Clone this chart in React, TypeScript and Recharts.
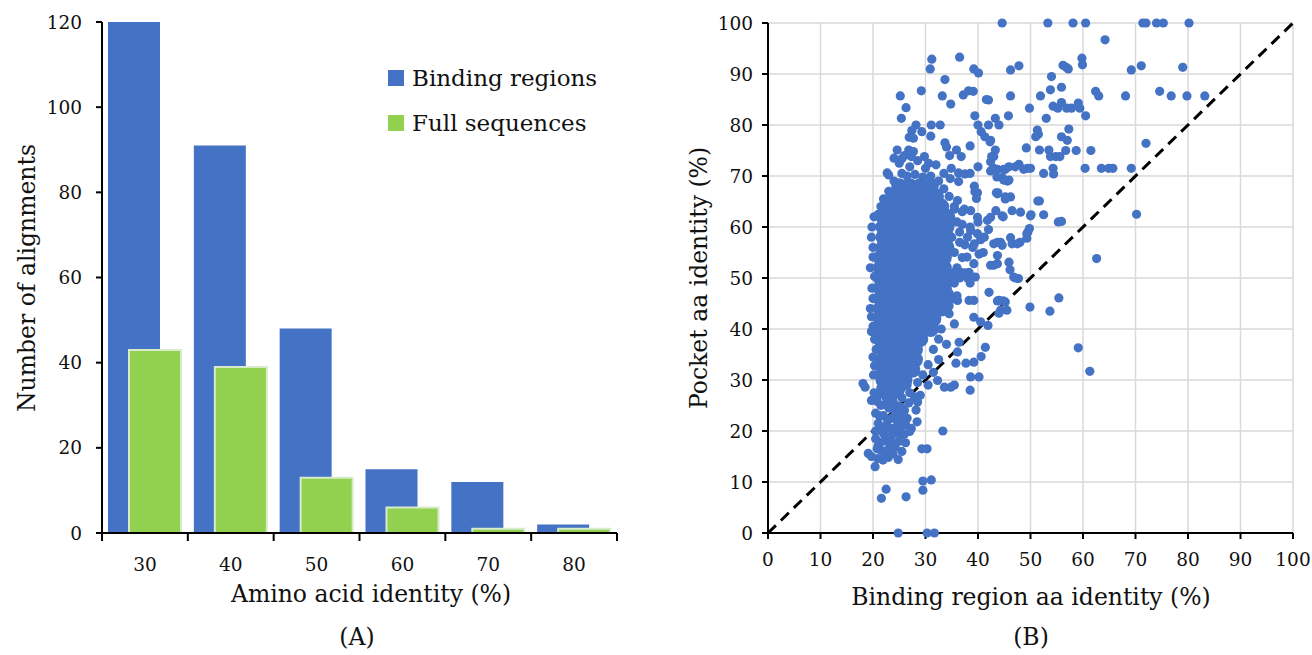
import React from 'react';
import {
  BarChart, Bar, XAxis, YAxis, ScatterChart, Scatter, CartesianGrid, ReferenceLine, Legend,
} from 'recharts';

// ---------- Panel A data ----------
const identityBins = ['30', '40', '50', '60', '70', '80'];
const bindingRegions = [120, 91, 48, 15, 12, 2];
const fullSequences = [43, 39, 13, 6, 1, 1];
const countTicks = [0, 20, 40, 60, 80, 100, 120];

// ---------- Panel B data ----------
const pctTicks = [0, 10, 20, 30, 40, 50, 60, 70, 80, 90, 100];
const parityLine = [{ x: 0, y: 0 }, { x: 100, y: 100 }];

// dense core of the cloud (drawn with larger dots so it reads as solid)
const blobCore: [number, number][] = [
  [25, 68], [27, 68], [29, 68], [31, 68],
  [24, 66], [26, 66], [28, 66], [30, 66], [32, 66],
  [23, 64], [25, 64], [27, 64], [29, 64], [31, 64], [33, 64],
  [22, 62], [24, 62], [26, 62], [28, 62], [30, 62], [32, 62], [34, 62],
  [22, 60], [24, 60], [26, 60], [28, 60], [30, 60], [32, 60], [34, 60],
  [22, 58], [24, 58], [26, 58], [28, 58], [30, 58], [32, 58], [34, 58],
  [22, 56], [24, 56], [26, 56], [28, 56], [30, 56], [32, 56], [34, 56],
  [21.5, 54], [23.5, 54], [25.5, 54], [27.5, 54], [29.5, 54], [31.5, 54], [33.5, 54],
  [21.5, 52], [23.5, 52], [25.5, 52], [27.5, 52], [29.5, 52], [31.5, 52], [33.5, 52],
  [21.5, 50], [23.5, 50], [25.5, 50], [27.5, 50], [29.5, 50], [31.5, 50], [33.5, 50],
  [21.5, 48], [23.5, 48], [25.5, 48], [27.5, 48], [29.5, 48], [31.5, 48], [33.5, 48],
  [21.5, 46], [23.5, 46], [25.5, 46], [27.5, 46], [29.5, 46], [31.5, 46], [33, 46],
  [21.5, 44], [23.5, 44], [25.5, 44], [27.5, 44], [29.5, 44], [31.5, 44], [33, 44],
  [21.5, 42], [23.5, 42], [25.5, 42], [27.5, 42], [29.5, 42], [31.5, 42],
  [21.5, 40], [23.5, 40], [25.5, 40], [27.5, 40], [29.5, 40], [31, 40],
  [21.5, 38], [23.5, 38], [25.5, 38], [27.5, 38], [29, 38],
  [22, 36], [24, 36], [26, 36], [28, 36],
  [22, 34], [24, 34], [26, 34], [28, 34],
  [22, 32], [24, 32], [26, 32], [27.5, 32],
  [22, 30], [24, 30], [26, 30],
  [22.5, 28], [24.5, 28],
];

const blobEdge: [number, number][] = [
  [20.2, 62], [19.8, 60], [19.7, 58], [20, 56], [20, 54.1], [19.5, 52], [20.3, 50.3], [19.8, 48],
  [20, 46], [19.5, 44], [19.7, 42.4], [20, 40.5], [19.7, 39.5], [20.3, 38], [20.6, 36], [20, 34.5],
  [20.3, 32.8], [20.1, 31], [18.1, 29.3], [18.5, 28.6], [19.7, 26], [20.2, 27.5],
  [22.7, 70.6], [23, 70.2], [24, 69], [25.5, 70.5], [26.5, 70], [28, 70.3], [29.5, 69.8], [31, 70],
  [32.5, 69], [33.5, 67.5], [34.5, 66], [23, 67], [22, 65.5], [21.5, 64], [21, 62.5], [35.5, 64],
  [33.5, 70.5], [30, 71.5], [27, 71.8], [25, 72.5], [28.5, 73], [32, 72.2], [24, 73.5], [26, 74],
  [35, 58], [36.5, 57], [35.5, 55], [37, 54], [36, 52], [35.5, 49], [37.5, 51], [38.5, 49],
  [34.5, 47], [36, 46.5], [34.5, 44.5], [34.5, 43], [35.5, 41], [33, 40], [32.5, 38], [34, 37],
  [31.5, 36], [32.5, 34], [30.5, 33], [31.5, 31.5], [29.5, 31], [30.5, 29], [28.5, 29.5], [29, 27], [28, 26.5],
  [34.8, 62], [36, 61], [37, 60.5], [38.5, 60], [40, 61], [36.5, 59], [38, 58], [39, 56],
  [40.5, 57.5], [41, 55], [37.5, 56.5], [42, 59.5], [35.5, 63.5], [37, 63],
  [35, 50], [36.5, 50], [38, 50], [39.5, 50.2],
];

const lowerTail: [number, number][] = [
  [21, 27], [22.5, 26.5], [24, 27], [25.5, 26.5], [27, 27.5], [21.5, 25], [23, 24.5], [24.5, 25],
  [26, 24], [27.9, 26.7], [28.5, 25.7], [28.2, 24.1], [20.5, 23.5], [22, 23], [23.5, 22.5], [25, 23],
  [26.5, 22.5], [21, 21.5], [22.5, 21], [24, 20.5], [25.5, 21], [28.4, 21.8], [27.3, 20.5], [27, 19.9],
  [20.5, 20], [22, 19.5], [23.5, 19], [25.4, 19.2], [24.8, 17.9], [21, 17.1], [22.5, 18.2], [21.6, 16.2],
  [23, 16.5], [25.5, 16], [19.1, 15.6], [19.7, 15], [20.4, 13], [21.9, 14.3], [22.9, 14.8], [24.8, 14.4],
  [23.8, 15.5], [20.5, 18.5],
  [21.5, 28.5], [23.5, 28.8], [25.5, 28.5], [26.5, 29], [20.8, 25.8], [22.3, 25.2], [23.8, 25.8],
  [25.3, 24.7], [26.8, 25.5], [21.2, 23], [24.2, 23.6], [25.9, 22.8], [22.8, 22], [24.7, 21.7],
  [26.2, 21.3], [21.8, 20.2], [23.2, 20.5], [24.6, 19.6], [26, 19.4], [22, 18], [23.4, 17.6],
  [26.2, 17.7], [20.8, 16.5], [24.2, 16.8], [22.4, 15.2], [20.9, 14.6],
  [33.3, 20], [29.3, 16.5], [30.3, 16.5], [29.5, 10.2], [31.1, 10.4], [29.5, 8.4], [22.5, 8.6],
  [21.6, 6.8], [26.3, 7.1], [24.8, 0], [30.3, 0], [31.7, 0],
];

const midRight: [number, number][] = [
  [43.7, 54.4], [42.4, 52.5], [43, 52.5], [45.9, 53.1], [46.1, 51.6], [40.2, 54.7], [39.2, 52.8],
  [37.9, 54.1], [38.3, 51.1], [36.7, 51.1], [35.5, 51.1], [33.9, 49.2], [33.3, 49], [46.8, 50.2],
  [47.7, 49.9], [42.1, 47.2], [44, 45.6], [45.2, 45.3], [44.3, 43.7], [45.5, 43.7], [39.2, 45.6],
  [38.3, 45.6], [39.2, 42.3], [40.5, 41.4], [41.9, 40.7], [35.1, 45.9], [36.1, 45.6], [36.4, 37.4],
  [41.4, 36.4], [40.6, 34.6], [39.2, 33.5], [37.7, 33.3], [35.8, 33.3], [36.1, 35.5], [40.2, 30.6],
  [38.6, 30.6], [35.5, 29], [33.6, 28.6], [32.3, 29.9], [38.5, 28], [34.8, 28.6],
  [44.6, 62.2], [48.1, 62.9], [50, 62.2], [46.5, 63.2], [44.8, 62], [43.4, 63.2], [42.4, 61.9],
  [41.8, 61.3], [39.9, 61.9], [38.6, 63.2], [37.4, 63.5], [36.1, 65.2], [43.7, 66.5], [45.2, 65.5],
  [46.2, 65.9], [51.7, 65.1], [39.3, 68], [39.9, 66.7], [38.6, 59.3], [39.9, 58.7], [41.2, 58],
  [39.3, 56.7], [43, 56.7], [44.6, 56.4], [46.5, 56.7], [47.5, 56.7], [49.3, 58.7], [49.3, 57.8],
  [48, 57], [46.2, 57.9], [44.3, 57], [43.7, 57], [43.7, 52.8], [47.1, 50], [43.7, 45.5],
  [44.8, 45.5], [44, 43.1], [44.6, 69.7], [45.6, 69], [42.4, 71], [43.7, 71.3], [45.2, 71.3],
  [47.1, 71.8], [48.7, 71.3],
  [49.9, 44.3], [53.7, 43.5], [55.4, 46.1], [59.1, 36.3], [61.3, 31.7], [62.6, 53.8], [70.2, 62.5],
  [55.3, 61], [52.5, 62.4], [50.1, 62.4], [49.5, 59], [51.4, 65.1], [55.9, 61.1], [49.8, 59.7],
];

const upperPoints: [number, number][] = [
  [44.6, 100], [53.3, 100], [58.1, 100], [60.5, 100], [71.4, 100], [72, 100], [74, 100], [75.3, 100], [80.2, 100],
  [64.2, 96.7],
  [46.2, 90.8], [47.8, 91.6], [56.2, 91.7], [56.8, 91.3], [57.2, 91], [59.8, 93.1], [59.9, 91.8],
  [69.2, 90.8], [71.1, 91.6], [79, 91.3],
  [54, 89.5], [53.8, 86.9], [55.9, 87.4], [46.2, 85.7], [51.9, 85.7], [62.4, 86.6], [63, 85.7],
  [68.1, 85.7], [74.6, 86.6], [76.8, 85.7], [79.8, 85.7], [83.2, 85.7],
  [42, 84.9], [49.8, 83.3], [54.3, 83.7], [55.2, 83.3], [55.9, 84.4], [56.9, 83.3], [57.8, 83.3],
  [59.1, 84.3], [59.4, 83.3], [60.5, 81.8],
  [43.3, 81.3], [44, 80], [45.8, 81.8], [53, 81.3], [42, 80], [51.3, 79], [51, 77.7], [51.5, 78.2],
  [57.3, 79.2], [55.9, 77.7], [57, 77], [42.4, 77],
  [49.2, 75.5], [51.7, 75.1], [53.5, 75.1], [53.8, 73.8], [54.8, 73.8], [55.6, 73.8], [56.7, 75],
  [58.7, 75], [61.5, 75], [72, 76.4],
  [43.3, 75.1], [43, 73.8], [42.4, 72.8], [43, 71.5], [44.9, 71.3], [45.9, 71.8], [47.8, 72.3],
  [49.4, 71.5], [50, 71.5], [52.5, 70.5], [54.3, 71.5], [54.4, 70.4], [60.4, 71.5], [63.5, 71.5],
  [64.9, 71.5], [65.7, 71.5], [69.2, 71.5],
  [43.6, 69.8], [44.9, 69.2], [45.9, 69.2], [43.8, 66.7], [45.2, 65.9],
  [31.2, 92.9], [30.9, 91], [36.5, 93.3], [39.2, 91], [40.1, 90.2], [33.7, 88.9], [25.2, 85.7],
  [29.2, 86.7], [33.2, 85.7], [34.8, 84.1], [37.2, 85.9], [38.2, 86.7], [39.1, 86.6], [26.3, 83.4],
  [41.6, 85], [25.4, 81.3], [39.4, 81.8],
  [28.2, 80], [27.4, 78.9], [26.9, 77.6], [27.7, 77.4], [31.1, 80], [32.8, 80], [29.3, 78.7],
  [31, 77.8], [40, 80], [40.6, 78.7], [41.3, 77.7], [42.3, 76.7], [33.7, 76.5], [34, 75.7], [38.5, 75.9],
  [24.6, 75.1], [25.5, 73.4], [26.8, 75.1], [27.7, 74.8], [27.3, 73.8], [29.8, 73.8], [30.6, 72.5],
  [34.6, 74], [35.9, 75.1], [36.8, 73.8], [42.6, 73.8],
  [34.9, 71.5], [36.3, 70.6], [37.5, 70.4], [38.5, 70.5], [40, 71.8], [34.7, 69.5], [36.3, 68.9],
  [39.4, 66.9], [39.7, 65.6], [43.5, 66.7],
];

const toXY = (pts: [number, number][]) => pts.map(([x, y]) => ({ x, y }));
const coreData = toXY(blobCore);
const pointData = toXY([...blobEdge, ...lowerTail, ...midRight, ...upperPoints]);

const barData = identityBins.map((bin, i) => ({
  bin,
  binding: bindingRegions[i],
  full: fullSequences[i],
}));

const FONT = "'DejaVu Serif', 'Liberation Serif', serif";
const BLUE = '#4472C4';
const GREEN = '#92D050';
const TEXT = '#111111';
const TICK_FS = 18.5;

function BandTick(props: any) {
  const { x, y, payload, index, visibleTicksCount } = props;
  const half = payload && typeof payload.offset === 'number' && payload.offset > 0 ? payload.offset : 43;
  const last = typeof visibleTicksCount === 'number' ? index === visibleTicksCount - 1 : index === identityBins.length - 1;
  return (
    <g>
      <line x1={x - half} x2={x - half} y1={y} y2={y + 8} stroke="#000" strokeWidth={2} />
      {last && <line x1={x + half} x2={x + half} y1={y} y2={y + 8} stroke="#000" strokeWidth={2} />}
      <text x={x} y={y + 31} textAnchor="middle" dominantBaseline="central" fill={TEXT} fontSize={TICK_FS} fontFamily={FONT}>
        {payload.value}
      </text>
    </g>
  );
}

function LegendBox(props: any) {
  const items = props.payload || [];
  return (
    <div style={{ fontFamily: FONT, fontSize: 23, color: TEXT }}>
      {items.map((it: any, i: number) => (
        <div key={i} style={{ display: 'flex', alignItems: 'center', height: 45 }}>
          <span style={{ display: 'inline-block', width: 16, height: 16, background: it.color, marginRight: 8 }} />
          <span style={{ whiteSpace: 'nowrap' }}>{it.value}</span>
        </div>
      ))}
    </div>
  );
}

const title = (text: string, cx: number, cy: number, rotate = false, size = 23.5): React.ReactNode => (
  <div
    style={{
      position: 'absolute', left: cx, top: cy, whiteSpace: 'nowrap', fontFamily: FONT, fontSize: size,
      color: TEXT, lineHeight: 1, transform: `translate(-50%, -50%)${rotate ? ' rotate(-90deg)' : ''}`,
    }}
  >
    {text}
  </div>
);

export default function App() {
  return (
    <div style={{ position: 'absolute', left: 0, top: 0, width: 1312, height: 655, background: '#fff', overflow: 'hidden' }}>
      <div style={{ position: 'absolute', left: 0, top: 0 }}>
        <BarChart
          width={640}
          height={655}
          data={barData}
          margin={{ top: 22, right: 23, bottom: 92, left: 42 }}
          barSize={52}
          barGap={-31}
        >
          <XAxis
            dataKey="bin"
            height={30}
            interval={0}
            axisLine={{ stroke: '#000', strokeWidth: 2 }}
            tickLine={false}
            tickSize={0}
            tickMargin={0}
            tick={(p: any) => <BandTick {...p} />}
          />
          <YAxis
            domain={[0, 120]}
            ticks={countTicks}
            width={60}
            interval={0}
            axisLine={{ stroke: '#000', strokeWidth: 2 }}
            tickLine={{ stroke: '#000', strokeWidth: 2 }}
            tickSize={6}
            tickMargin={14}
            tick={{ fill: TEXT, fontSize: TICK_FS, fontFamily: FONT }}
          />
          <Legend
            layout="vertical"
            align="center"
            verticalAlign="middle"
            wrapperStyle={{ position: 'absolute', left: 388, top: 55, width: 260, height: 100 }}
            content={(p: any) => <LegendBox {...p} />}
          />
          <Bar dataKey="binding" name="Binding regions" fill={BLUE} isAnimationActive={false} />
          <Bar dataKey="full" name="Full sequences" fill={GREEN} stroke="#d7ebc8" strokeWidth={2} isAnimationActive={false} />
        </BarChart>
      </div>

      <div style={{ position: 'absolute', left: 660, top: 0 }}>
        <ScatterChart width={652} height={655} margin={{ top: 23, right: 19, bottom: 92, left: 48 }}>
          <CartesianGrid stroke="#d9d9d9" strokeWidth={1.5} />
          <XAxis
            type="number"
            dataKey="x"
            domain={[0, 100]}
            ticks={pctTicks}
            interval={0}
            height={30}
            axisLine={{ stroke: '#000', strokeWidth: 2 }}
            tickLine={{ stroke: '#000', strokeWidth: 2 }}
            tickSize={6}
            tickMargin={14}
            tick={{ fill: TEXT, fontSize: TICK_FS, fontFamily: FONT }}
          />
          <YAxis
            type="number"
            dataKey="y"
            domain={[0, 100]}
            ticks={pctTicks}
            interval={0}
            width={60}
            axisLine={{ stroke: '#000', strokeWidth: 2 }}
            tickLine={{ stroke: '#000', strokeWidth: 2 }}
            tickSize={6}
            tickMargin={9}
            tick={{ fill: TEXT, fontSize: TICK_FS, fontFamily: FONT }}
          />
          <Scatter
            data={coreData}
            fill={BLUE}
            isAnimationActive={false}
            shape={(p: any) => <circle cx={p.cx} cy={p.cy} r={8} fill={BLUE} />}
          />
          <Scatter
            data={pointData}
            fill={BLUE}
            isAnimationActive={false}
            shape={(p: any) => <circle cx={p.cx} cy={p.cy} r={4.6} fill={BLUE} />}
          />
          <ReferenceLine
            segment={parityLine}
            stroke="#000"
            strokeWidth={3}
            strokeDasharray="11 7"
            ifOverflow="visible"
          />
        </ScatterChart>
      </div>

      {title('Amino acid identity (%)', 371, 595)}
      {title('Number of alignments', 28, 278, true)}
      {title('(A)', 357, 638)}
      {title('Binding region aa identity (%)', 1031, 598)}
      {title('Pocket aa identity (%)', 700, 278, true)}
      {title('(B)', 1031, 638)}
    </div>
  );
}
